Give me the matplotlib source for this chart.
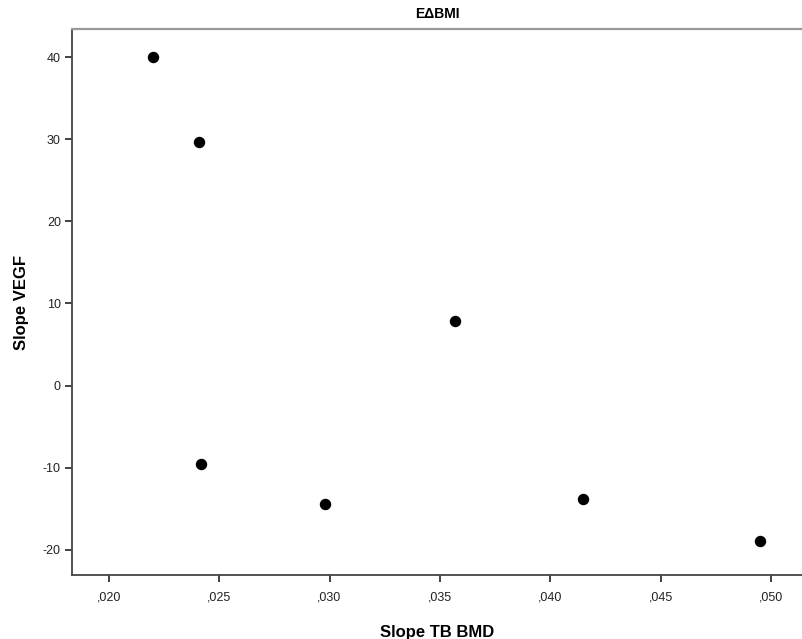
import matplotlib
matplotlib.use("Agg")
import matplotlib.pyplot as plt
from matplotlib.ticker import FuncFormatter

plt.rcParams['font.family'] = ['Liberation Sans', 'DejaVu Sans']

slope_bmd = [0.0220, 0.0241, 0.0242, 0.0298, 0.0357, 0.0415, 0.0495]
slope_vegf = [40.0, 29.7, -9.6, -14.4, 7.9, -13.8, -18.9]

x_ticks = [0.020, 0.025, 0.030, 0.035, 0.040, 0.045, 0.050]
y_ticks = [-20, -10, 0, 10, 20, 30, 40]

fig = plt.figure(figsize=(8.03, 6.39), dpi=100)
ax = fig.add_axes([0.0897, 0.100, 0.9103, 0.854])

ax.scatter(slope_bmd, slope_vegf, s=52, color='black', zorder=3)

ax.set_xlim(0.01834, 0.05144)
ax.set_ylim(-23.1, 43.4)
ax.set_xticks(x_ticks)
ax.set_yticks(y_ticks)
ax.xaxis.set_major_formatter(FuncFormatter(lambda v, p: ("%.3f" % v).lstrip('0').replace('.', ',')))
ax.yaxis.set_major_formatter(FuncFormatter(lambda v, p: "%d" % v))

ax.tick_params(axis='both', direction='out', length=5, width=1.3, color='#333333',
               labelsize=9, labelcolor='#222222', pad=3)
ax.tick_params(axis='x', pad=7)

for side in ['left', 'bottom']:
    ax.spines[side].set_color('#444444')
    ax.spines[side].set_linewidth(1.3)
ax.spines['top'].set_color('#999999')
ax.spines['top'].set_linewidth(1.6)
ax.spines['right'].set_visible(False)

ax.set_title("E\u0394BMI", fontsize=10, fontweight='bold', pad=8)
ax.set_xlabel("Slope TB BMD", fontsize=12, fontweight='bold', labelpad=15)
ax.set_ylabel("Slope VEGF", fontsize=12, fontweight='bold', labelpad=10)

fig.savefig("out.png", dpi=100)
